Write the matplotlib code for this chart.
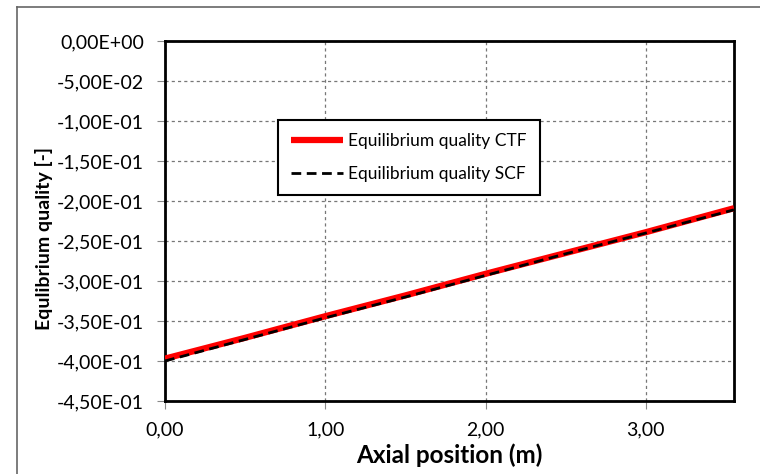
import matplotlib
matplotlib.use("Agg")
import matplotlib.pyplot as plt
from matplotlib.ticker import FuncFormatter, MultipleLocator
from matplotlib.lines import Line2D

axial_position = [0.0, 0.5, 1.0, 1.5, 2.0, 2.5, 3.0, 3.55]
quality_ctf = [-0.397, -0.371, -0.344, -0.318, -0.291, -0.265, -0.239, -0.209]
quality_scf = [-0.400, -0.373, -0.346, -0.320, -0.293, -0.266, -0.240, -0.211]

plt.rcParams['font.family'] = ['Lato', 'DejaVu Sans']

fig = plt.figure(figsize=(7.6, 4.74), dpi=100)
fig.patch.set_linewidth(0)
ax = fig.add_axes([165/760, 1-401/474, (734-165)/760, (401-41)/474])

# outer chart frame (left and top edges visible)
fig.lines.append(Line2D([17/760, 17/760], [0, 1-7/474], transform=fig.transFigure,
                        color='#666666', linewidth=1.2))
fig.lines.append(Line2D([17/760, 1.05], [1-7/474, 1-7/474], transform=fig.transFigure,
                        color='#666666', linewidth=1.2))

ax.plot(axial_position, quality_ctf, color='#ff0000', linewidth=4.5, solid_capstyle='butt',
        label='Equilibrium quality CTF', zorder=3)
ax.plot(axial_position, quality_scf, color='black', linewidth=2.0, linestyle=(0, (3.5, 2.0)),
        label='Equilibrium quality SCF', zorder=4)

ax.set_xlim(0, 3.55)
ax.set_ylim(-0.45, 0.0)
ax.xaxis.set_major_locator(MultipleLocator(1.0))
ax.yaxis.set_major_locator(MultipleLocator(0.05))
ax.xaxis.set_major_formatter(FuncFormatter(lambda v, p: f"{v:.2f}".replace('.', ',')))
ax.yaxis.set_major_formatter(FuncFormatter(lambda v, p: f"{(0.0 if abs(v) < 1e-12 else v):.2E}".replace('.', ',')))

ax.grid(True, color='#777777', linestyle=(0, (2.5, 2.5)), linewidth=0.9)
for s in ax.spines.values():
    s.set_linewidth(2.0)
    s.set_color('black')
ax.tick_params(axis='both', direction='out', length=6, width=0.8, color='#888888',
               labelsize=14, pad=9, labelcolor='black')

ax.set_xlabel('Axial position (m)', fontsize=17.5, fontweight='bold', labelpad=3)
ax.set_ylabel('Equlibrium quality [-]', fontsize=14, fontweight='bold')
ax.yaxis.set_label_coords(-(165-53)/569, (401-238)/360)

leg = ax.legend(loc='upper left', bbox_to_anchor=((278-165)/569, (401-120)/360),
                frameon=True, fancybox=False, edgecolor='black', fontsize=12.5,
                handlelength=3.0, handletextpad=0.3, labelspacing=1.0, borderpad=0.75,
                borderaxespad=0, framealpha=1)
leg.get_frame().set_linewidth(1.5)

fig.savefig('out.png', dpi=100)
